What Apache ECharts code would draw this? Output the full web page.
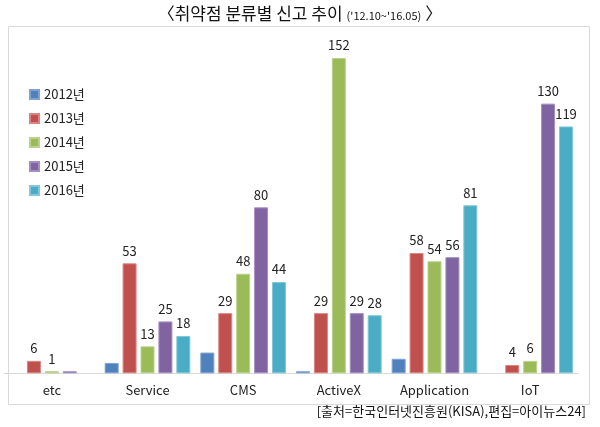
<!DOCTYPE html>
<html>
<head>
<meta charset="utf-8">
<script src="https://cdn.jsdelivr.net/npm/echarts@6/dist/echarts.min.js"></script>
<style>
  html, body { margin: 0; padding: 0; background: #fff; }
  #main { width: 600px; height: 427px; }
</style>
</head>
<body>
<div id="main"></div>
<script>
// 분류별 카테고리
const categories = ['etc', 'Service', 'CMS', 'ActiveX', 'Application', 'IoT'];
const years = ['2012년', '2013년', '2014년', '2015년', '2016년'];

// 연도별 신고 건수 (null = 막대 없음)
const v2012 = [null, 5, 10, 1, 7, null];
const v2013 = [6, 53, 29, 29, 58, 4];
const v2014 = [1, 13, 48, 152, 54, 6];
const v2015 = [1, 25, 80, 29, 56, 130];
const v2016 = [null, 18, 44, 28, 81, 119];

const values = [v2012, v2013, v2014, v2015, v2016];
const colors = ['#4F81BD', '#C0504D', '#9BBB59', '#8064A2', '#4BACC6'];
const borders = ['#7FA3D1', '#D98683', '#B9D38A', '#A48FC0', '#80C8DA'];
// 원본에서 값이 표시되지 않은 막대
const showLabel = [false, true, true, true, true];
const hiddenLabel = { '2015년': [0] };

const chart = echarts.init(document.getElementById('main'));

const series = years.map((y, i) => ({
  name: y,
  type: 'bar',
  barWidth: 14,
  barGap: '28%',
  itemStyle: { color: colors[i], borderColor: borders[i], borderWidth: 1 },
  label: {
    show: showLabel[i],
    position: 'top',
    distance: 6,
    fontSize: 13,
    color: '#222',
    fontFamily: 'Noto Sans CJK KR'
  },
  data: values[i].map((v, j) => {
    const hide = (hiddenLabel[y] || []).includes(j);
    return hide ? { value: v, label: { show: false } } : v;
  })
}));

const option = {
  backgroundColor: '#fff',
  animation: false,
  textStyle: { fontFamily: 'Noto Sans CJK KR' },
  title: {
    text: '{b|〈취약점 분류별 신고 추이} {s|(\'12.10~\'16.05)} {b|〉}',
    left: 'center',
    top: 0,
    textStyle: {
      rich: {
        b: { fontSize: 17, fontWeight: 'normal', color: '#111', fontFamily: 'Noto Sans CJK KR' },
        s: { fontSize: 11, fontWeight: 'normal', color: '#111', fontFamily: 'Noto Sans CJK KR', padding: [4, 0, 0, 0] }
      }
    }
  },
  graphic: [
    {
      type: 'rect',
      shape: { x: 8.5, y: 26.5, width: 581, height: 378 },
      style: { fill: 'none', stroke: '#d9d9d9', lineWidth: 1 },
      silent: true
    },
    {
      type: 'text',
      right: 14,
      top: 405,
      style: {
        text: '[출처=한국인터넷진흥원(KISA),편집=아이뉴스24]',
        fontSize: 13,
        fill: '#111',
        fontFamily: 'Noto Sans CJK KR'
      }
    }
  ],
  legend: {
    orient: 'vertical',
    left: 24,
    top: 83,
    icon: 'rect',
    itemWidth: 9,
    itemHeight: 9,
    itemGap: 11,
    textStyle: { fontSize: 13, color: '#222', fontFamily: 'Noto Sans CJK KR' },
    data: years
  },
  grid: { left: 4, right: 22, top: 41.4, bottom: 53.7, containLabel: false },
  xAxis: {
    type: 'category',
    data: categories,
    axisLine: { lineStyle: { color: '#d9d9d9', width: 1 } },
    axisTick: { show: false },
    axisLabel: { fontSize: 13, color: '#222', margin: 10, fontFamily: 'Noto Sans CJK KR' }
  },
  yAxis: {
    type: 'value',
    min: 0,
    max: 160,
    show: false,
    splitLine: { show: false }
  },
  series: series
};

chart.setOption(option);
</script>
</body>
</html>
